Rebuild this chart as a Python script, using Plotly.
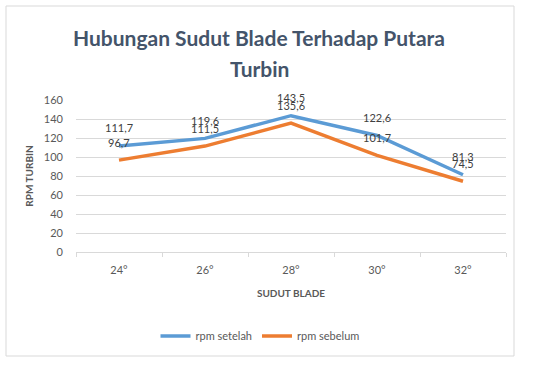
import plotly.graph_objects as go

categories = ["24°", "26°", "28°", "30°", "32°"]
rpm_setelah = [111.7, 119.6, 143.5, 122.6, 81.3]
rpm_sebelum = [96.7, 111.5, 135.6, 101.7, 74.5]
y_ticks = [0, 20, 40, 60, 80, 100, 120, 140, 160]

BLUE = "#5B9BD5"
ORANGE = "#ED7D31"
FONT = "Lato"

def fmt(v):
    return f"{v:.1f}".replace(".", ",")

fig = go.Figure()
fig.add_trace(go.Scatter(x=categories, y=rpm_setelah, name="rpm setelah", mode="lines",
                         line=dict(color=BLUE, width=3.5)))
fig.add_trace(go.Scatter(x=categories, y=rpm_sebelum, name="rpm sebelum", mode="lines",
                         line=dict(color=ORANGE, width=3.5)))

for series in (rpm_setelah, rpm_sebelum):
    for c, v in zip(categories, series):
        fig.add_annotation(x=c, y=v, text=fmt(v), showarrow=False, yshift=18,
                           font=dict(family=FONT, size=11, color="#404040"))

W, H = 534, 368
L, R, T, B = 76, 506, 100, 252

def px_x(p):
    return (p - L) / (R - L)

def px_y(p):
    return (B - p) / (B - T)

fig.add_annotation(xref="paper", yref="paper", x=px_x(259), y=px_y(38), yanchor="middle",
                   xanchor="center",
                   text="<b>Hubungan Sudut Blade Terhadap Putara</b>", showarrow=False,
                   font=dict(family=FONT, size=21, color="#44546A"))
fig.add_annotation(xref="paper", yref="paper", x=px_x(259), y=px_y(68), yanchor="middle",
                   xanchor="center",
                   text="<b>Turbin</b>", showarrow=False,
                   font=dict(family=FONT, size=21, color="#44546A"))

fig.add_shape(type="rect", xref="paper", yref="paper",
              x0=px_x(6), x1=px_x(514), y0=px_y(356), y1=px_y(6),
              line=dict(color="#d9d9d9", width=1), layer="below")

fig.update_layout(
    width=W, height=H,
    margin=dict(l=L, r=W - R, t=T, b=H - B),
    paper_bgcolor="white", plot_bgcolor="white",
    font=dict(family=FONT, size=11, color="#595959"),
    showlegend=True,
    legend=dict(orientation="h", x=px_x(260), xanchor="center", y=px_y(336), yanchor="middle",
                font=dict(family=FONT, size=11, color="#595959"), itemwidth=30,
                tracegroupgap=0),
    xaxis=dict(type="category", range=[-0.5, 4.5], showgrid=False,
               showline=True, linecolor="#d9d9d9", linewidth=1,
               ticks="outside", tickson="boundaries", ticklen=4, tickcolor="#d9d9d9",
               ticklabelstandoff=8,
               tickfont=dict(size=11, color="#595959"),
               title=dict(text="<b>SUDUT BLADE</b>", font=dict(size=10, color="#595959"), standoff=14)),
    yaxis=dict(range=[0, 160], tickvals=y_ticks, showgrid=True, gridcolor="#d9d9d9",
               zeroline=False, showline=False, ticks="",
               ticklabelstandoff=12,
               tickfont=dict(size=11, color="#595959"),
               title=dict(text="<b>RPM TURBIN</b>", font=dict(size=10, color="#595959"), standoff=8)),
)

fig.write_html("out.html", config={"displayModeBar": False},
               post_script="document.body.style.margin='0';document.body.style.padding='0';")
